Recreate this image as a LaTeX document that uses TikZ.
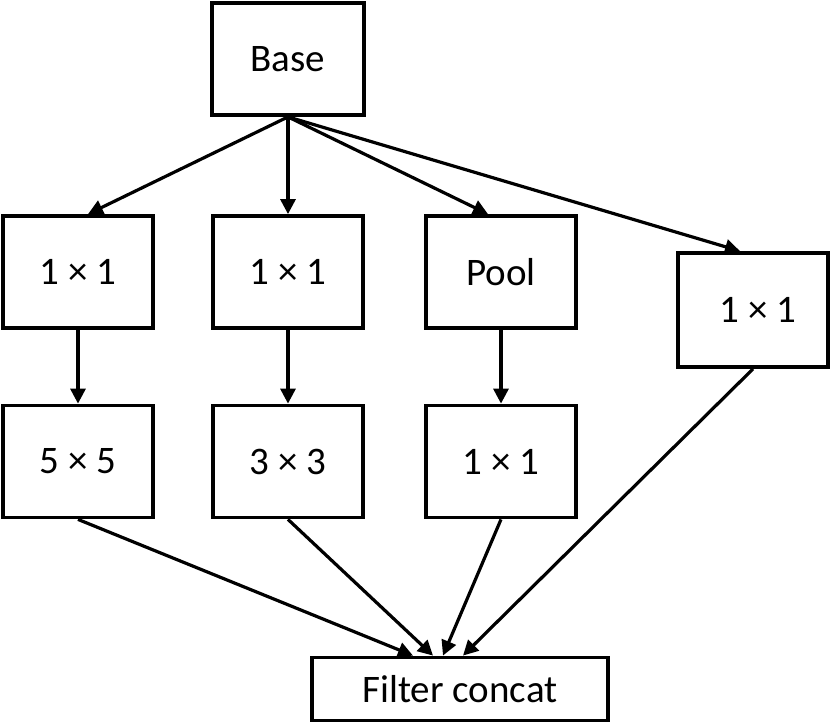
\documentclass[tikz,border=0pt]{standalone}
\usepackage{fontspec}
\setmainfont{Carlito}
\usetikzlibrary{arrows.meta}
\tikzset{
  layerbox/.style={draw, line width=3.8pt, minimum width=150pt, minimum height=112pt, inner sep=0pt, font=\fontsize{39}{47}\selectfont},
  flow/.style={line width=3.2pt, -{Triangle[length=15pt,width=15pt]}}
}

\begin{document}
\begin{tikzpicture}[x=1pt,y=-1pt]
\useasboundingbox (0,0) rectangle (831,723);

% Boxes
\node[layerbox, minimum width=152pt] (base) at (288,59) {Base};
\node[layerbox] (conva) at (78,272) {1 × 1};
\node[layerbox] (convb) at (288,272) {1 × 1};
\node[layerbox] (pool) at (501,272) {Pool};
\node[layerbox, minimum height=114pt] (convd) at (753,310) {\hspace{10pt}1 × 1};
\node[layerbox] (fivebyfive) at (78,461.5) {5 × 5};
\node[layerbox] (threebythree) at (288,461.5) {3 × 3};
\node[layerbox] (convc) at (501,461.5) {1 × 1};
\node[layerbox, minimum width=296pt, minimum height=63pt] (concat) at (460,689) {Filter concat};

% From base
\draw[flow] (base.south) -- ([xshift=10pt]conva.north);
\draw[flow] (base.south) -- (convb.north);
\draw[flow] (base.south) -- ([xshift=-13pt]pool.north);
\draw[flow] (base.south) -- ([xshift=-13pt]convd.north);

% Second layer
\foreach \top/\bottom in {conva/fivebyfive, convb/threebythree, pool/convc} {
    \draw[flow] (\top.south) -- (\bottom.north);
}

% Into filter concat
\foreach \from/\dx in {fivebyfive/-47, threebythree/-27, convc/-17, convd/3} {
    \draw[flow] (\from.south) -- ([xshift=\dx pt]concat.north);
}
\end{tikzpicture}
\end{document}
